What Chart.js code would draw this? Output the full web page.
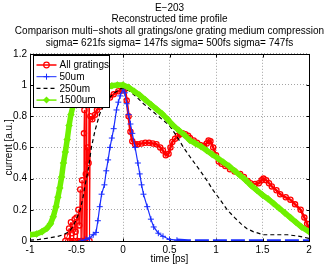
<!DOCTYPE html>
<html><head><meta charset="utf-8">
<script src="https://cdn.jsdelivr.net/npm/chart.js@4.4.0/dist/chart.umd.min.js"></script>
<style>html,body{margin:0;padding:0;background:#fff}#wrap{width:327px;height:266px}</style>
</head><body><div id="wrap"><canvas id="c" width="327" height="266"></canvas></div>
<script>
const titleLines = ['E\u2212203', 'Reconstructed time profile', 'Comparison multi\u2212shots all gratings/one grating medium compression', 'sigma= 621fs sigma= 147fs sigma= 500fs sigma= 747fs'];
const xTicks = [-1, -0.5, 0, 0.5, 1, 1.5, 2];
const yTicks = [0, 0.2, 0.4, 0.6, 0.8, 1, 1.2];
const seriesNames = ['All gratings', '50um', '250um', '1500um'];

const allT = [-0.62,-0.6,-0.58,-0.57,-0.56,-0.55,-0.54,-0.53,-0.52,-0.51,-0.5,-0.49,-0.48,-0.47,-0.46,-0.45,-0.44,-0.43,-0.42,-0.415,-0.41,-0.4,-0.395,-0.39,-0.38,-0.37,-0.365,-0.36,-0.35,-0.33,-0.3,-0.28,-0.25,-0.21,-0.18,-0.14,-0.1,-0.05,-0.01,0.02,0.04,0.06,0.08,0.1,0.13,0.16,0.2,0.24,0.28,0.32,0.36,0.4,0.43,0.46,0.49,0.51,0.53,0.56,0.59,0.615,0.64,0.67,0.7,0.72,0.76,0.795,0.83,0.87,0.9,0.92,0.94,0.97,1.0,1.03,1.06,1.1,1.15,1.2,1.26,1.3,1.34,1.37,1.42,1.46,1.49,1.51,1.54,1.57,1.6,1.65,1.69,1.75,1.8,1.85,1.91,1.95,1.98,2.0];
const allV = [0.0,0.03,0.08,0.0,0.12,0.05,0.1,0.0,0.14,0.06,0.15,0.0,0.2,0.1,0.33,0.0,0.39,0.0,0.69,0.84,0.0,0.43,0.95,0.0,0.6,0.5,0.9,0.0,0.8,0.78,0.81,0.84,0.86,0.88,0.9,0.92,0.94,0.96,0.965,0.975,0.9,0.8,0.7,0.64,0.62,0.62,0.625,0.63,0.63,0.625,0.62,0.6,0.58,0.55,0.56,0.6,0.635,0.655,0.675,0.685,0.69,0.685,0.675,0.66,0.645,0.63,0.615,0.61,0.625,0.645,0.64,0.6,0.55,0.51,0.495,0.48,0.46,0.445,0.43,0.41,0.385,0.37,0.365,0.37,0.39,0.4,0.39,0.37,0.35,0.325,0.3,0.28,0.265,0.235,0.2,0.15,0.11,0.08];

const t50 = [-0.45,-0.4,-0.36,-0.32,-0.29,-0.27,-0.25,-0.23,-0.2,-0.18,-0.16,-0.14,-0.12,-0.1,-0.07,-0.05,-0.03,0.0,0.02,0.04,0.06,0.08,0.1,0.13,0.16,0.18,0.2,0.22,0.26,0.3,0.33,0.38,0.43,0.5,0.58,0.7,0.85,1.0,1.15,1.3,1.45,1.6,1.75,1.9,2.0];
const v50 = [0.0,0.01,0.02,0.04,0.055,0.13,0.22,0.3,0.36,0.45,0.52,0.6,0.66,0.72,0.84,0.89,0.93,0.975,0.95,0.88,0.81,0.75,0.69,0.6,0.5,0.43,0.36,0.3,0.22,0.14,0.09,0.05,0.03,0.01,0.005,0,0,0,0,0,0,0,0,0,0];

const t250 = [-1,-0.9,-0.79,-0.7,-0.64,-0.58,-0.54,-0.5,-0.46,-0.43,-0.41,-0.39,-0.37,-0.34,-0.3,-0.25,-0.18,-0.09,-0.03,0.0,0.075,0.15,0.22,0.3,0.4,0.5,0.58,0.65,0.72,0.83,0.9,0.97,1.05,1.12,1.2,1.27,1.33,1.4,1.51,1.6,1.77,1.9,2.0];
const v250 = [0.005,0.01,0.02,0.03,0.04,0.06,0.09,0.14,0.2,0.28,0.35,0.41,0.47,0.6,0.71,0.815,0.9,0.95,0.975,0.98,0.96,0.92,0.88,0.84,0.79,0.74,0.67,0.6,0.54,0.45,0.39,0.325,0.26,0.2,0.15,0.11,0.08,0.06,0.04,0.04,0.04,0.03,0.017];

const t1500 = [-1,-0.93,-0.87,-0.82,-0.78,-0.75,-0.72,-0.7,-0.68,-0.66,-0.64,-0.62,-0.6,-0.58,-0.56,-0.54,-0.52,-0.48,-0.43,-0.36,-0.3,-0.24,-0.18,-0.12,-0.06,0,0.06,0.12,0.18,0.24,0.3,0.36,0.42,0.48,0.54,0.6,0.66,0.72,0.78,0.84,0.9,0.96,1.02,1.08,1.14,1.2,1.26,1.32,1.38,1.44,1.5,1.56,1.62,1.68,1.74,1.8,1.86,1.92,2.0];
const v1500 = [0.04,0.045,0.06,0.08,0.11,0.155,0.22,0.28,0.34,0.41,0.5,0.57,0.65,0.74,0.81,0.86,0.88,0.9,0.92,0.945,0.96,0.975,0.985,0.995,1.0,1.0,0.985,0.96,0.935,0.905,0.875,0.845,0.815,0.78,0.74,0.71,0.68,0.645,0.625,0.605,0.58,0.555,0.53,0.505,0.48,0.45,0.42,0.39,0.355,0.325,0.295,0.27,0.24,0.21,0.18,0.15,0.12,0.09,0.06];

const RED = 'rgb(255,0,0)', BLUE = 'rgb(25,45,255)', BLACK = '#000', GREEN = 'rgb(110,240,0)';
const FONT = '"Liberation Sans", Arial, Helvetica, sans-serif';
const pts = (xs, ys) => xs.map((x, i) => ({x, y: ys[i]}));

const legendItems = [
  {label: seriesNames[0], color: RED, dash: [], marker: 'circle', lw: 1.5},
  {label: seriesNames[1], color: BLUE, dash: [], marker: 'cross', lw: 1},
  {label: seriesNames[2], color: BLACK, dash: [4, 3], marker: null, lw: 1.2},
  {label: seriesNames[3], color: GREEN, dash: [], marker: 'diamond', lw: 1.5}
];

const boxPlugin = {
  id: 'boxPlugin',
  beforeDatasetsDraw(chart) {
    const {ctx, chartArea: a, scales} = chart;
    ctx.save();
    ctx.strokeStyle = '#000'; ctx.lineWidth = 1;
    const L = Math.round(a.left) + 0.5, R = Math.round(a.right) + 0.5, T = Math.round(a.top) + 0.5, B = Math.round(a.bottom) + 0.5;
    ctx.strokeRect(L, T, R - L, B - T);
    ctx.beginPath();
    xTicks.forEach(v => { const x = Math.round(scales.x.getPixelForValue(v)) + 0.5; ctx.moveTo(x, B); ctx.lineTo(x, B - 3); ctx.moveTo(x, T); ctx.lineTo(x, T + 3); });
    yTicks.forEach(v => { const y = Math.round(scales.y.getPixelForValue(v)) + 0.5; ctx.moveTo(L, y); ctx.lineTo(L + 3, y); ctx.moveTo(R, y); ctx.lineTo(R - 3, y); });
    ctx.stroke();
    ctx.restore();
  },
  afterDatasetsDraw(chart) {
    const {ctx, chartArea: a} = chart;
    ctx.save();
    const bx = Math.round(a.left) + 3.5, by = Math.round(a.top) + 1.5, bw = 76, bh = 52;
    ctx.fillStyle = '#fff'; ctx.fillRect(bx, by, bw, bh);
    ctx.strokeStyle = '#000'; ctx.lineWidth = 1; ctx.setLineDash([]); ctx.strokeRect(bx, by, bw, bh);
    ctx.font = '10px ' + FONT; ctx.textBaseline = 'middle'; ctx.textAlign = 'left';
    legendItems.forEach((it, i) => {
      const cy = by + 9.5 + i * 11.7;
      const x0 = bx + 3, x1 = bx + 23, mx = (x0 + x1) / 2;
      ctx.strokeStyle = it.color; ctx.lineWidth = it.lw; ctx.setLineDash(it.dash);
      ctx.beginPath(); ctx.moveTo(x0, cy); ctx.lineTo(x1, cy); ctx.stroke();
      ctx.setLineDash([]);
      if (it.marker === 'circle') { ctx.lineWidth = 1.2; ctx.beginPath(); ctx.arc(mx, cy, 2.8, 0, Math.PI * 2); ctx.stroke(); }
      if (it.marker === 'cross') { ctx.lineWidth = 1; ctx.beginPath(); ctx.moveTo(mx - 3, cy); ctx.lineTo(mx + 3, cy); ctx.moveTo(mx, cy - 3); ctx.lineTo(mx, cy + 3); ctx.stroke(); }
      if (it.marker === 'diamond') { ctx.fillStyle = it.color; ctx.beginPath(); ctx.moveTo(mx, cy - 3.5); ctx.lineTo(mx + 3.5, cy); ctx.lineTo(mx, cy + 3.5); ctx.lineTo(mx - 3.5, cy); ctx.closePath(); ctx.fill(); }
      ctx.fillStyle = '#000';
      ctx.fillText(it.label, x1 + 3, cy + 0.5);
    });
    ctx.restore();
  }
};

new Chart(document.getElementById('c'), {
  type: 'line',
  data: {
    datasets: [
      {label: seriesNames[0], data: pts(allT, allV), borderColor: RED, borderWidth: 2.5, pointStyle: 'circle', pointRadius: 2.6, pointBorderWidth: 1.3, pointBorderColor: RED, pointBackgroundColor: 'rgba(255,0,0,0)',
        segment: {borderWidth: ctx => (ctx.p1.parsed.x <= -0.35 ? 1 : undefined)}, order: 3},
      {label: seriesNames[1], data: pts(t50, v50), borderColor: BLUE, borderWidth: 1.2, pointStyle: 'cross', pointRadius: ctx => (ctx.raw && ctx.raw.x > 0.6) ? 0 : 3, pointBorderWidth: 1, pointBorderColor: BLUE,
        segment: {borderDash: ctx => (ctx.p0.parsed.x >= 0.58 ? [14, 4] : undefined), borderWidth: ctx => (ctx.p0.parsed.x >= 0.58 ? 3.5 : undefined)}, order: 2},
      {label: seriesNames[2], data: pts(t250, v250), borderColor: BLACK, borderWidth: 1.2, borderDash: [4, 3], pointRadius: 0, order: 1},
      {label: seriesNames[3], data: pts(t1500, v1500), borderColor: GREEN, borderWidth: 5.5, pointStyle: 'rectRot', pointRadius: 3.8, pointBorderWidth: 0, pointBackgroundColor: GREEN, pointBorderColor: GREEN, order: 0}
    ]
  },
  options: {
    responsive: false, animation: false, devicePixelRatio: 1,
    layout: {padding: {left: 12, right: 0, top: 0, bottom: 0}},
    plugins: {
      legend: {display: false}, tooltip: {enabled: false},
      title: {display: true, text: titleLines, color: '#000', font: {family: FONT, size: 10, weight: 'normal', lineHeight: 1.17}, padding: {top: 2, bottom: 5}}
    },
    elements: {line: {tension: 0}},
    scales: {
      x: {type: 'linear', min: -1, max: 2,
        afterBuildTicks: s => { s.ticks = xTicks.map(v => ({value: v})); },
        afterFit: s => { s.height = 25; },
        ticks: {color: '#000', font: {family: FONT, size: 10}, padding: 3, maxRotation: 0, autoSkip: false, callback: v => String(v)},
        grid: {color: 'rgba(140,140,140,0.8)', lineWidth: 1, drawTicks: false},
        border: {display: false, dash: [1, 2]},
        title: {display: true, text: 'time [ps]', color: '#000', font: {family: FONT, size: 10}, padding: {top: 0, bottom: 1}}
      },
      y: {min: 0, max: 1.2,
        afterBuildTicks: s => { s.ticks = yTicks.map(v => ({value: v})); },
        afterFit: s => { s.width = 18; },
        ticks: {color: '#000', font: {family: FONT, size: 10}, padding: 3, autoSkip: false, callback: v => String(Math.round(v * 10) / 10)},
        grid: {color: 'rgba(140,140,140,0.8)', lineWidth: 1, drawTicks: false},
        border: {display: false, dash: [1, 2]},
        title: {display: true, text: 'current [a.u.]', color: '#000', font: {family: FONT, size: 10}, padding: {top: -9, bottom: 0}}
      },
      yRightMargin: {position: 'right', min: 0, max: 1.2, display: true,
        afterFit: s => { s.width = 18; },
        ticks: {display: false}, grid: {display: false, drawTicks: false}, border: {display: false}, title: {display: false}
      }
    }
  },
  plugins: [boxPlugin]
});
</script></body></html>
